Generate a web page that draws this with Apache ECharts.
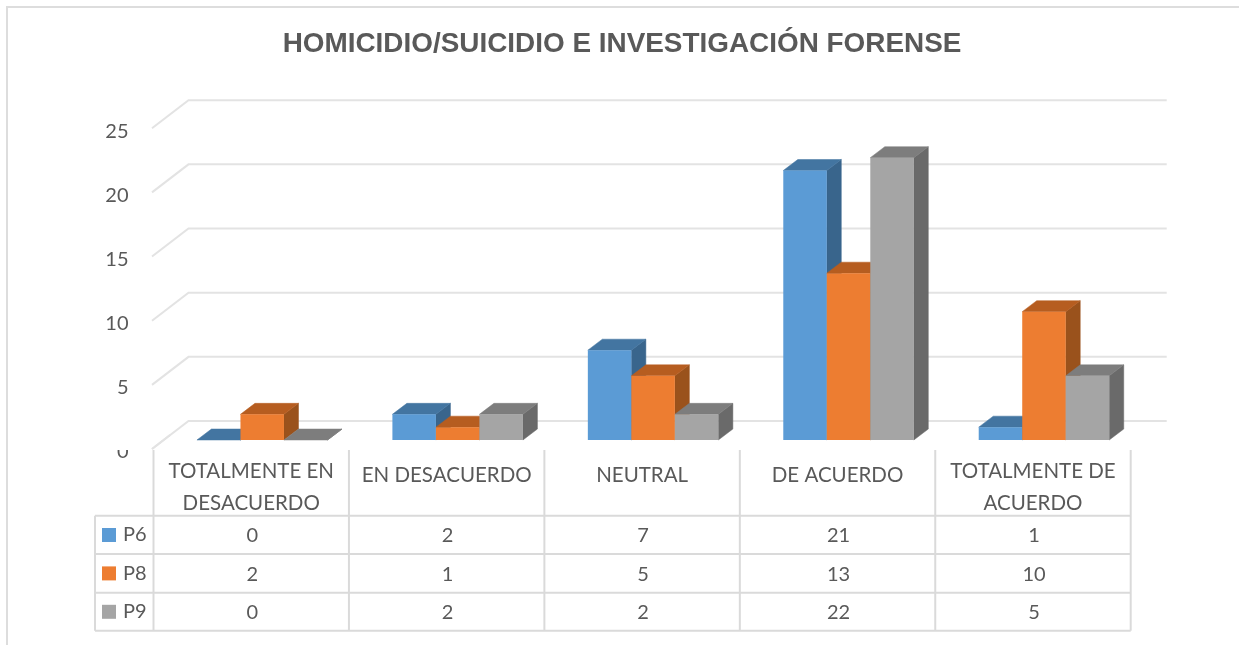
<!DOCTYPE html>
<html><head><meta charset="utf-8">
<style>html,body{margin:0;padding:0;background:#fff}#c{width:1239px;height:645px}</style>
<script src="https://cdn.jsdelivr.net/npm/echarts@6/dist/echarts.min.js"></script>
</head><body><div id="c"></div>
<script>
const titleText = 'HOMICIDIO/SUICIDIO E INVESTIGACIÓN FORENSE';
const categories = ['TOTALMENTE EN\nDESACUERDO', 'EN DESACUERDO', 'NEUTRAL', 'DE ACUERDO', 'TOTALMENTE DE\nACUERDO'];
const P6 = [0, 2, 7, 21, 1];
const P8 = [2, 1, 5, 13, 10];
const P9 = [0, 2, 2, 22, 5];
const seriesNames = ['P6', 'P8', 'P9'];
const yTicks = [0, 5, 10, 15, 20, 25];

const FONT = 'Lato';
const TXT = '#595959', LINE = '#DADADA';
const L = 153.5, R = 1130.7, T = 128.2, B = 449;
const DX = 35, DY = -28;            // depth of the floor
const BDX = 14.5, BDY = -11;        // depth of a bar
const OX = 11, OY = -9;             // bar's front plane behind the chart's front plane
const rows = [515.7, 554, 592.7, 630.7];
const tableLeft = 95;
const palette = [
  {front:'#5B9BD5', top:'#4375A1', side:'#39658C'},
  {front:'#ED7D31', top:'#B65D20', side:'#9A521C'},
  {front:'#A5A5A5', top:'#7D7D7D', side:'#6A6A6A'}
];

function barRenderer(s) {
  return function (params, api) {
    const c = api.value(0), v = api.value(1);
    const band = api.size([1, 0])[0];
    const w = band * 0.2226;
    const p0 = api.coord([c, 0]), p1 = api.coord([c, v]);
    const x0 = p0[0] + OX + (s - 1.5) * w, x1 = x0 + w;
    const yb = p0[1] + OY, yt = p1[1] + OY;
    const col = palette[s];
    const poly = (pts, fill) => ({type:'polygon', shape:{points:pts}, style:{fill, stroke:fill, lineWidth:0.5}});
    return {type:'group', children:[
      poly([[x1,yb],[x1+BDX,yb+BDY],[x1+BDX,yt+BDY],[x1,yt]], col.side),
      poly([[x0,yt],[x1,yt],[x1+BDX,yt+BDY],[x0+BDX,yt+BDY]], col.top),
      {type:'rect', shape:{x:x0,y:yt,width:w,height:yb-yt}, style:{fill:col.front}}
    ]};
  };
}
function wallRenderer(params, api) {
  const p = api.coord([0, api.value(0)]);
  const band = api.size([1, 0])[0];
  const x = p[0] - band / 2, y = p[1];
  return {type:'polyline', shape:{points:[[x - 1.5, y],[x + DX, y + DY],[x + band * 5 + DX + 1, y + DY]]},
    style:{fill:'none', stroke:'#E3E3E3', lineWidth:2}};
}

const gfx = [];
// frame
gfx.push({type:'polyline', shape:{points:[[7,645],[7,7],[1239,7]]}, style:{fill:'none', stroke:'#DDDDDD', lineWidth:2}});
// clip top of the zero tick label, as in the source
gfx.push({type:'rect', z:50, shape:{x:110,y:436,width:30,height:14}, style:{fill:'#fff'}});
// floor edge sits above that patch
gfx.push({type:'line', z:51, shape:{x1:152,y1:449,x2:170,y2:435}, style:{stroke:'#E3E3E3', lineWidth:2}});
// table lines
const colW = (R - L) / categories.length;
for (let i = 0; i <= categories.length; i++) {
  const x = L + i * colW;
  gfx.push({type:'line', z:40, shape:{x1:x,y1:450,x2:x,y2:rows[3]}, style:{stroke:LINE, lineWidth:2}});
}
rows.forEach(y => gfx.push({type:'line', z:40, shape:{x1:tableLeft,y1:y,x2:R,y2:y}, style:{stroke:LINE, lineWidth:2}}));
gfx.push({type:'line', z:40, shape:{x1:tableLeft,y1:rows[0],x2:tableLeft,y2:rows[3]}, style:{stroke:LINE, lineWidth:2}});
// table values
[P6, P8, P9].forEach((arr, r) => arr.forEach((v, i) => gfx.push({
  type:'text', z:41, x:L + (i + .5) * colW + 1, y:(rows[r] + rows[r + 1]) / 2 + 1,
  style:{text:String(v), font:'20px ' + FONT, fill:TXT, align:'center', verticalAlign:'middle'}
})));

const chart = echarts.init(document.getElementById('c'), null, {renderer:'canvas'});
chart.setOption({
  animation:false,
  backgroundColor:'#fff',
  title:{text:titleText, left:617, top:25, textAlign:'center',
    textStyle:{fontFamily:'Liberation Sans', fontWeight:'bold', fontSize:27.9, color:TXT}},
  legend:{orient:'vertical', left:102, top:525, padding:0,
    itemWidth:14, itemHeight:14, itemGap:18.4, icon:'rect', data:seriesNames,
    textStyle:{fontFamily:FONT, fontSize:20, lineHeight:14, color:TXT, padding:[0,0,0,2]}},
  grid:{left:L, top:T, width:R - L, height:B - T},
  xAxis:{type:'category', boundaryGap:true,
    data:categories.map(c => ({value:c, textStyle:{lineHeight:c.includes('\n') ? 32 : 40}})),
    axisLine:{show:false}, axisTick:{show:false},
    axisLabel:{interval:0, margin:6, verticalAlign:'top', fontFamily:FONT, fontSize:20.5, color:TXT}},
  yAxis:{type:'value', min:0, max:25, interval:5, splitLine:{show:false},
    axisLine:{show:false}, axisTick:{show:false},
    axisLabel:{margin:25, fontFamily:FONT, fontSize:20, color:TXT, verticalAlign:'top', lineHeight:6}},
  graphic:gfx,
  series:[
    {type:'custom', name:'wall', silent:true, z:1, renderItem:wallRenderer, data:yTicks.map(v => [v]), encode:{y:0}, clip:false},
    ...seriesNames.map((n, s) => ({
      type:'custom', name:n, z:2 + s, clip:false, renderItem:barRenderer(s),
      itemStyle:{color:palette[s].front},
      encode:{x:0, y:1},
      data:[P6, P8, P9][s].map((v, i) => [i, v])
    }))
  ]
});
</script></body></html>
